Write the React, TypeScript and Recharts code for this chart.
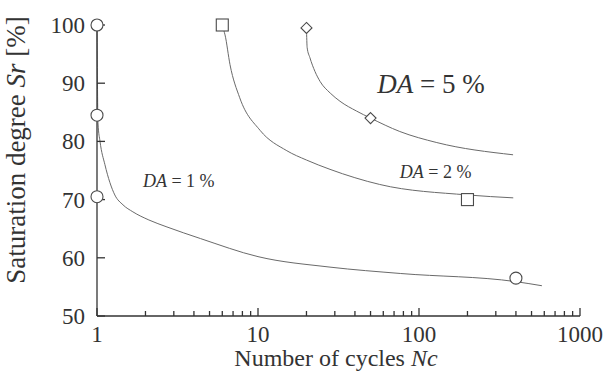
import React from "react";
import { ComposedChart, Line, Scatter, XAxis, YAxis, Label, ReferenceDot } from "recharts";

const FONT = '"Liberation Serif", "Times New Roman", serif';
const INK = "#333333";
const CURVE = "#6a6a6a";
const MARK = "#4a4a4a";

// plot frame
const W = 607;
const H = 373;
const TOP = 25;
const RIGHT = 27;
const X_AXIS_H = 57;
const Y_AXIS_W = 97;
const PLOT_BOTTOM = H - X_AXIS_H;

// log axis: major decades plus 2..9 minor marks
const cycleTicks = [
  1, 2, 3, 4, 5, 6, 7, 8, 9,
  10, 20, 30, 40, 50, 60, 70, 80, 90,
  100, 200, 300, 400, 500, 600, 700, 800, 900,
  1000,
];
const cycleMajor = [1, 10, 100, 1000];
const saturationTicks = [50, 60, 70, 80, 90, 100];

// measured test points
const da1Points = [
  { n: 1, sr: 100 },
  { n: 1, sr: 84.5 },
  { n: 1, sr: 70.5 },
  { n: 400, sr: 56.5 },
];
const da2Points = [
  { n: 6, sr: 100 },
  { n: 200, sr: 70 },
];
const da5Points = [
  { n: 20, sr: 99.5 },
  { n: 50, sr: 84 },
];

// fitted curves through the points
const da1Curve = [
  { n: 1, sr: 100 },
  { n: 1.015, sr: 83 },
  { n: 1.044, sr: 80 },
  { n: 1.12, sr: 76 },
  { n: 1.29, sr: 70.8 },
  { n: 1.45, sr: 69.1 },
  { n: 1.67, sr: 67.9 },
  { n: 2.1, sr: 66.5 },
  { n: 2.72, sr: 65.3 },
  { n: 4.4, sr: 63.3 },
  { n: 10, sr: 60.2 },
  { n: 28, sr: 58.4 },
  { n: 77, sr: 57.3 },
  { n: 400, sr: 55.9 },
  { n: 580, sr: 55.2 },
];
const da2Curve = [
  { n: 6, sr: 99.8 },
  { n: 6.24, sr: 98.3 },
  { n: 6.7, sr: 93.2 },
  { n: 7.7, sr: 87.5 },
  { n: 10.3, sr: 81.9 },
  { n: 15.1, sr: 78.4 },
  { n: 20, sr: 76.8 },
  { n: 28, sr: 75.2 },
  { n: 57, sr: 72.6 },
  { n: 200, sr: 70.8 },
  { n: 385, sr: 70.3 },
];
const da5Curve = [
  { n: 20, sr: 99.5 },
  { n: 20.2, sr: 96.1 },
  { n: 21, sr: 94.4 },
  { n: 22.6, sr: 92 },
  { n: 24.3, sr: 90.3 },
  { n: 28.1, sr: 88.3 },
  { n: 32.3, sr: 86.9 },
  { n: 41, sr: 85.2 },
  { n: 50, sr: 84 },
  { n: 76, sr: 81.7 },
  { n: 129, sr: 79.8 },
  { n: 384, sr: 77.7 },
];

// label anchors (left end of baseline)
const da1Label = { n: 1.93, sr: 72.2 };
const da2Label = { n: 76, sr: 73.75 };
const da5Label = { n: 55, sr: 88.4 };

// inward tick marks, drawn under the test-point symbols
const xTickMarks = cycleTicks.map((v) => ({ n: v, sr: 50, major: cycleMajor.includes(v) }));
const yTickMarks = saturationTicks.map((v) => ({ n: 1, sr: v }));

const XTickMark = (props: any) => {
  const len = props.payload?.major ? 8 : 5;
  return <path d={`M${props.cx},${props.cy}V${props.cy - len}`} stroke={INK} strokeWidth={1.3} fill="none" />;
};
const YTickMark = (props: any) => (
  <path d={`M${props.cx},${props.cy}H${props.cx + 8}`} stroke={INK} strokeWidth={1.3} fill="none" />
);

const CircleMark = (props: any) => (
  <circle cx={props.cx} cy={props.cy} r={6} fill="#fff" stroke={MARK} strokeWidth={1.1} />
);
const SquareMark = (props: any) => (
  <rect x={props.cx - 6} y={props.cy - 6} width={12} height={12} fill="#fff" stroke={MARK} strokeWidth={1.1} />
);
const DiamondMark = (props: any) => {
  const { cx, cy } = props;
  const s = 5.5;
  return (
    <path
      d={`M${cx},${cy - s}L${cx + s},${cy}L${cx},${cy + s}L${cx - s},${cy}Z`}
      fill="#fff"
      stroke={MARK}
      strokeWidth={1.1}
    />
  );
};

const XTick = (props: any) => {
  const { x, payload } = props;
  if (!cycleMajor.includes(payload.value)) return <g />;
  return (
    <text x={x} y={PLOT_BOTTOM + 26} textAnchor="middle" fill={INK} fontSize={23} fontFamily={FONT}>
      {payload.value}
    </text>
  );
};

const YTick = (props: any) => {
  const { y, payload } = props;
  return (
    <text x={Y_AXIS_W - 12} y={y + 8} textAnchor="end" fill={INK} fontSize={23} fontFamily={FONT}>
      {payload.value}
    </text>
  );
};

const daText = (pct: string, size: number) => (props: any) => (
  <text x={props.cx} y={props.cy} fill={INK} fontSize={size} fontFamily={FONT}>
    <tspan fontStyle="italic">DA</tspan>
    {` = ${pct} %`}
  </text>
);

export default function App() {
  return (
    <div style={{ width: W, height: H, background: "#fff", position: "absolute", left: 0, top: 0 }}>
      <ComposedChart width={W} height={H} margin={{ top: TOP, right: RIGHT, bottom: 0, left: 0 }}>
        <XAxis
          dataKey="n"
          type="number"
          scale="log"
          domain={[1, 1000]}
          ticks={cycleTicks}
          interval={0}
          height={X_AXIS_H}
          tickLine={false}
          tick={XTick}
          axisLine={{ stroke: INK, strokeWidth: 1.3 }}
        >
          <Label
            content={() => (
              <text x={336} y={PLOT_BOTTOM + 50} textAnchor="middle" fill={INK} fontSize={24} fontFamily={FONT}>
                Number of cycles <tspan fontStyle="italic">Nc</tspan>
              </text>
            )}
          />
        </XAxis>
        <YAxis
          dataKey="sr"
          type="number"
          domain={[50, 100]}
          ticks={saturationTicks}
          interval={0}
          width={Y_AXIS_W}
          tickLine={false}
          tick={YTick}
          axisLine={{ stroke: INK, strokeWidth: 1.3 }}
        >
          <Label
            content={() => {
              const cx = 25;
              const cy = 150;
              return (
                <text
                  x={cx}
                  y={cy}
                  transform={`rotate(-90 ${cx} ${cy})`}
                  textAnchor="middle"
                  fill={INK}
                  fontSize={27}
                  fontFamily={FONT}
                >
                  Saturation degree <tspan fontStyle="italic">Sr</tspan> [%]
                </text>
              );
            }}
          />
        </YAxis>

        <Scatter data={xTickMarks} dataKey="sr" shape={XTickMark} isAnimationActive={false} />
        <Scatter data={yTickMarks} dataKey="sr" shape={YTickMark} isAnimationActive={false} />

        <Line data={da1Curve} dataKey="sr" type="monotone" stroke={CURVE} strokeWidth={1} dot={false} isAnimationActive={false} />
        <Line data={da2Curve} dataKey="sr" type="monotone" stroke={CURVE} strokeWidth={1} dot={false} isAnimationActive={false} />
        <Line data={da5Curve} dataKey="sr" type="monotone" stroke={CURVE} strokeWidth={1} dot={false} isAnimationActive={false} />

        <Scatter data={da1Points} dataKey="sr" shape={CircleMark} isAnimationActive={false} />
        <Scatter data={da2Points} dataKey="sr" shape={SquareMark} isAnimationActive={false} />
        <Scatter data={da5Points} dataKey="sr" shape={DiamondMark} isAnimationActive={false} />

        <ReferenceDot x={da1Label.n} y={da1Label.sr} r={0} shape={daText("1", 18)} />
        <ReferenceDot x={da2Label.n} y={da2Label.sr} r={0} shape={daText("2", 18)} />
        <ReferenceDot x={da5Label.n} y={da5Label.sr} r={0} shape={daText("5", 27)} />
      </ComposedChart>
    </div>
  );
}
